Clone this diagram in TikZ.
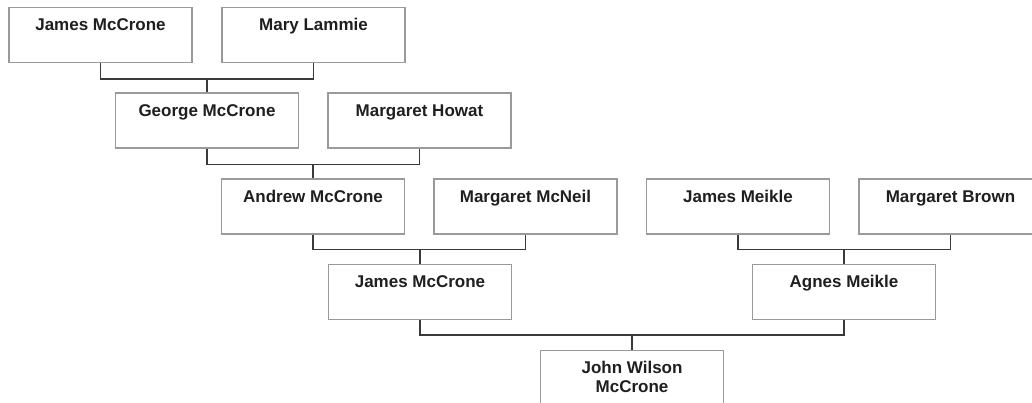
\documentclass[tikz,border=0pt]{standalone}
\usepackage{fontspec}
\setmainfont{Liberation Sans}
\begin{document}
\begin{tikzpicture}[x=1pt,y=-1pt,
  personbox/.style={draw=boxgray, line width=1.1pt, fill=white, minimum width=183pt, minimum height=55pt, inner sep=0pt},
  nametext/.style={font=\fontsize{17}{19.5}\selectfont\bfseries, text=black!88, inner sep=0pt, align=center, anchor=base},
  conn/.style={draw=conngray, line width=1.3pt}]
\definecolor{boxgray}{HTML}{9A9A9A}
\definecolor{conngray}{HTML}{3A3A3A}
\useasboundingbox (0,0) rectangle (1032,402);
\newcommand\person[5][24pt]{%
  \node[personbox] (#2) at (#3,#4) {};
  \node[nametext] (#2-t) at ([yshift=-#1]#2.north) {#5};}
\person{jm1}{100.5}{35}{James McCrone}
\person{ml}{313.5}{35}{Mary Lammie}
\person{gm}{207}{120.5}{George McCrone}
\person{mh}{419.5}{120.5}{Margaret Howat}
\person{am}{313}{206.5}{Andrew McCrone}
\person{mmn}{525.5}{206.5}{Margaret McNeil}
\person{jme}{738}{206.5}{James Meikle}
\person{mb}{950.5}{206.5}{Margaret Brown}
\person{jm2}{420}{292}{James McCrone}
\person{agm}{844}{292}{Agnes Meikle}
\person[43pt]{jwm}{632}{378}{John Wilson\\McCrone}
% connectors
\draw[conn] (jm1.south) -- ++(0,16) coordinate (j1) -| (ml.south);
\draw[conn] (gm.north) -- (gm.north |- j1);
\draw[conn] (gm.south) -- ++(0,16) coordinate (j2) -| (mh.south);
\draw[conn] (am.north) -- (am.north |- j2);
\draw[conn] (am.south) -- ++(0,15) coordinate (j3) -| (mmn.south);
\draw[conn] (jm2.north) -- (jm2.north |- j3);
\draw[conn] (jme.south) -- ++(0,15) coordinate (j4) -| (mb.south);
\draw[conn] (agm.north) -- (agm.north |- j4);
\draw[conn] (jm2.south) -- ++(0,15) coordinate (j5) -| (agm.south);
\draw[conn] (jwm.north) -- (jwm.north |- j5);
\end{tikzpicture}
\end{document}
